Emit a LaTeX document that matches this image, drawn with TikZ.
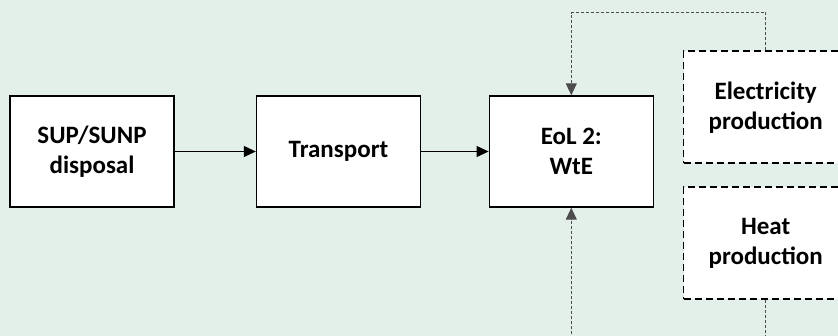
\documentclass[tikz,border=0pt]{standalone}
\usepackage{fontspec}
\setmainfont{Carlito}
\usetikzlibrary{arrows.meta}
\tikzset{>=stealth}
\definecolor{bggreen}{RGB}{226,240,233}
\tikzset{
	procbox/.style = {draw, fill=white, line width=1.4pt, minimum width=164pt, minimum height=111pt, align=center, font=\bfseries\fontsize{25}{30}\selectfont},
	optbox/.style = {procbox, dash pattern=on 7pt off 4pt},
	flow/.style = {->, > = {Triangle[length=12pt, width=11pt]}, line width=1pt},
	link/.style = {flow, draw=black!70, dash pattern=on 3pt off 2pt}
}

\begin{document}
\begin{tikzpicture}[x=1pt, y=-1pt]
	\useasboundingbox (0,0) rectangle (838,336);
	\clip (0,0) rectangle (838,336);
	\fill [bggreen] (0,0) rectangle (838,336);
	\node [procbox] (disposal) at (92,151.5) {SUP/SUNP\\disposal};
	\node [procbox] (transport) at (338.5,151.5) {Transport};
	\node [procbox] (wte) at (571.3,151.5) {EoL 2:\\WtE};
	\node [optbox, minimum height=112pt] (elec) at (765.7,107.2) {Electricity\\production};
	\node [optbox, minimum height=112pt] (heat) at (765.7,243.2) {Heat\\production};
	\draw [flow] (disposal) -- (transport);
	\draw [flow] (transport) -- (wte);
	\coordinate (elecup) at (765.7,12.7);
	\coordinate (heatdown) at (765.7,360);
	\draw [link] (elec.north) -- (elecup) -| (wte.north);
	\draw [link] (heat.south) -- (heatdown) -| (wte.south);
\end{tikzpicture}
\end{document}
